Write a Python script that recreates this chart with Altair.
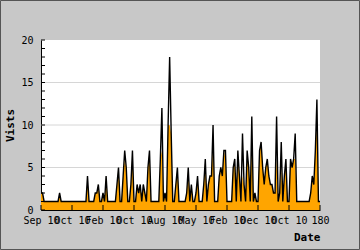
import altair as alt
import pandas as pd

# Visits (black line), one value per point
visits = [
    2, 2, 1, 1, 1, 1, 1, 1, 1, 1, 1, 1, 2, 1, 1, 1, 1, 1, 1, 1,
    1, 1, 1, 1, 1, 1, 1, 1, 1, 1, 4, 1, 1, 1, 1, 2, 2, 3, 1, 1,
    2, 1, 4, 1, 1, 1, 1, 1, 1, 3, 5, 1, 1, 4, 7, 5, 1, 1, 3, 7,
    1, 1, 3, 2, 3, 1, 3, 2, 1, 5, 7, 1, 1, 1, 1, 1, 1, 6, 12, 1,
    2, 1, 10, 18, 9, 1, 1, 3, 5, 1, 1, 1, 1, 1, 2, 5, 1, 3, 1, 1,
    2, 4, 1, 1, 1, 3, 6, 1, 3, 4, 4, 10, 1, 1, 1, 4, 5, 4, 7, 7,
    1, 1, 1, 1, 5, 6, 1, 7, 4, 1, 9, 3, 1, 7, 5, 1, 11, 1, 2, 1,
    1, 7, 8, 5, 3, 5, 6, 4, 3, 3, 2, 2, 11, 1, 2, 8, 1, 4, 6, 1,
    1, 6, 5, 6, 9, 1, 1, 1, 1, 1, 1, 1, 1, 1, 2, 4, 3, 7, 13, 1,
    1,
]

# Second series (orange area)
uniques = [
    2, 2, 1, 1, 1, 1, 1, 1, 1, 1, 1, 1, 2, 1, 1, 1, 1, 1, 1, 1,
    1, 1, 1, 1, 1, 1, 1, 1, 1, 1, 4, 1, 1, 1, 1, 2, 2, 3, 1, 1,
    2, 1, 4, 1, 1, 1, 1, 1, 1, 3, 5, 1, 1, 4, 6, 5, 1, 1, 3, 7,
    1, 1, 3, 2, 3, 1, 3, 2, 1, 5, 7, 1, 1, 1, 1, 1, 1, 6, 7, 1,
    2, 1, 10, 10, 9, 1, 1, 3, 5, 1, 1, 1, 1, 1, 2, 5, 1, 3, 1, 1,
    2, 4, 1, 1, 1, 3, 6, 1, 3, 4, 4, 8, 1, 1, 1, 4, 5, 4, 7, 6,
    1, 1, 1, 1, 5, 6, 1, 7, 4, 1, 4, 3, 1, 7, 5, 1, 9, 1, 2, 1,
    1, 7, 8, 5, 3, 5, 6, 4, 3, 3, 2, 2, 6, 1, 2, 5, 1, 4, 6, 1,
    1, 6, 5, 6, 6, 1, 1, 1, 1, 1, 1, 1, 1, 1, 2, 4, 3, 7, 10, 1,
    1,
]

x_tick_pos = [0, 20, 40, 60, 80, 100, 120, 140, 160, 180]
x_tick_labels = ["Sep 10", "Oct 10", "Feb 10", "Oct 10", "Aug 10",
                 "May 10", "Feb 10", "Dec 10", "Oct 10", "180"]
y_label_vals = [0, 5, 10, 15, 20]
y_minor = list(range(0, 21))
grid_vals = [5, 10, 15]

W, H = 279, 170
FONT = "DejaVu Sans Mono"

df = pd.DataFrame({"idx": list(range(len(visits))), "visits": visits, "uniq": uniques})

label_arr = "[" + ",".join("'" + s + "'" for s in x_tick_labels) + "]"

xscale = alt.Scale(domain=[0, 180], nice=False, zero=False)
yscale = alt.Scale(domain=[0, 20], nice=False)

xaxis = alt.Axis(values=x_tick_pos, labelExpr=label_arr + "[round(datum.value/20)]",
                 ticks=False, grid=False, domainColor="black", domainWidth=1,
                 labelFont=FONT, labelFontSize=10, labelColor="black", labelPadding=5,
                 labelOverlap=False, labelFlush=False, labelBound=False,
                 title="Date", titleFont=FONT, titleFontSize=11, titleFontWeight="bold",
                 titleColor="black", titleX=W, titleY=30, titleAlign="right",
                 titleBaseline="alphabetic")
yaxis = alt.Axis(values=y_label_vals, ticks=False, grid=False, domainColor="black",
                 domainWidth=1, labelFont=FONT, labelFontSize=10, labelColor="black",
                 labelPadding=8, labelOverlap=False,
                 title="Vists", titleFont=FONT, titleFontSize=11, titleFontWeight="bold",
                 titleColor="black", titleX=-31, titleY=H / 2, titleAlign="center",
                 titleBaseline="middle", titleAngle=270)

area = alt.Chart(df).mark_area(color="#FFA500", opacity=1, interpolate="linear").encode(
    x=alt.X("idx:Q", scale=xscale, axis=xaxis),
    y=alt.Y("uniq:Q", scale=yscale, axis=yaxis),
)

grid = alt.Chart(pd.DataFrame({"g": grid_vals})).mark_rule(color="#d6d6d6", strokeWidth=1).encode(
    y=alt.Y("g:Q", scale=yscale, axis=yaxis)
)

line = alt.Chart(df).mark_line(color="black", strokeWidth=1.4).encode(
    x=alt.X("idx:Q", scale=xscale, axis=xaxis),
    y=alt.Y("visits:Q", scale=yscale, axis=yaxis),
)

yticks = alt.Chart(pd.DataFrame({"t": y_minor})).mark_rule(color="black", strokeWidth=1).encode(
    y=alt.Y("t:Q", scale=yscale, axis=yaxis),
    x=alt.value(0), x2=alt.value(4),
)

xticks = alt.Chart(pd.DataFrame({"t": x_tick_pos})).mark_rule(color="black", strokeWidth=1).encode(
    x=alt.X("t:Q", scale=xscale, axis=xaxis),
    y=alt.value(H - 5), y2=alt.value(H),
)

border = alt.Chart(pd.DataFrame({"a": [0]})).mark_rect(
    fill=None, stroke="#555555", strokeWidth=1
).encode(
    x=alt.value(-40.5), x2=alt.value(318.5), y=alt.value(-39.5), y2=alt.value(209.5)
)

chart = alt.layer(grid, area, line, yticks, xticks, border).properties(
    width=W, height=H,
    autosize=alt.AutoSizeParams(type="none"),
    padding={"left": 41, "top": 40, "right": 40, "bottom": 40},
    background="#c8c8c8",
).configure_view(stroke=None, fill="white").configure_axis(labelOverlap=False)

chart.save("out.html", embed_options={"renderer": "svg", "actions": False})
